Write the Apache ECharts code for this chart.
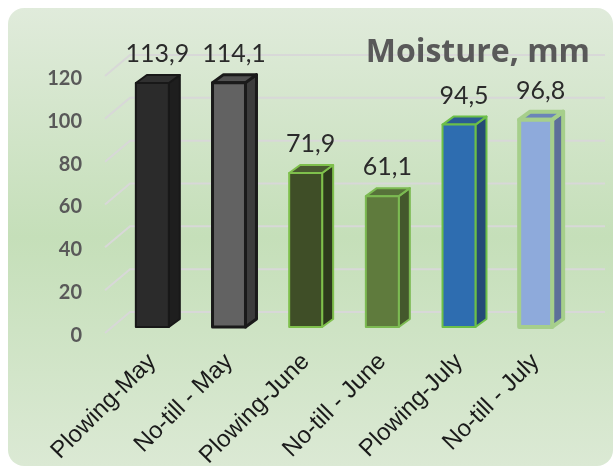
<!DOCTYPE html>
<html>
<head>
<meta charset="utf-8">
<script src="https://cdn.jsdelivr.net/npm/echarts@6/dist/echarts.min.js"></script>
<style>html,body{margin:0;padding:0;background:#fff;}#c{width:615px;height:472px;}</style>
</head>
<body>
<div id="c"></div>
<script>
// ---- data ----
const categories = ['Plowing-May', 'No-till - May', 'Plowing-June', 'No-till - June', 'Plowing-July', 'No-till - July'];
const moisture = [113.9, 114.1, 71.9, 61.1, 94.5, 96.8];
const yTicks = [0, 20, 40, 60, 80, 100, 120];
const titleText = 'Moisture, mm';

// ---- styles ----
const frontColors = ['#2b2b2b', '#626262', '#3f4e27', '#5f7b3d', '#2e6db0', '#8eaadb'];
const sideColors  = ['#1e1e1e', '#3c3c3c', '#2d3a1c', '#44582c', '#244a76', '#5d6f99'];
const topColors   = ['#303030', '#515151', '#495a30', '#57723a', '#2b5c93', '#6b84b8'];
const edgeColors  = ['#181818', '#1a1a1a', '#7fc04c', '#7cba52', '#6cbf48', '#a6cf8b'];
const edgeWidths  = [2, 3, 2, 2, 2, 4];

const chart = echarts.init(document.getElementById('c'), null, {renderer: 'canvas'});

function fmt(v) { return v.toFixed(1).replace('.', ','); }

function renderBar(params, api) {
  const i = api.value(0), v = api.value(1);
  const top = api.coord([i, v]);
  const base = api.coord([i, 0]);
  const bw = api.size([1, 0])[0] * 0.43;
  const dx = 11, dy = 8;
  const x0 = top[0] - bw / 2, x1 = x0 + bw;
  const ew = edgeWidths[i], ec = edgeColors[i];
  const st = (fill) => ({fill: fill, stroke: ec, lineWidth: ew, lineJoin: 'round'});
  return {
    type: 'group',
    children: [
      {type: 'polygon', shape: {points: [[x1, top[1]], [x1 + dx, top[1] - dy], [x1 + dx, base[1] - dy], [x1, base[1]]]}, style: st(sideColors[i])},
      {type: 'polygon', shape: {points: [[x0, top[1]], [x0 + dx, top[1] - dy], [x1 + dx, top[1] - dy], [x1, top[1]]]}, style: st(topColors[i])},
      {type: 'rect', shape: {x: x0, y: top[1], width: bw, height: base[1] - top[1]}, style: st(frontColors[i])},
      {type: 'text', x: top[0] + 5, y: top[1] - 29, style: {text: fmt(v), font: '25px Lato', fill: '#2a2a2a', align: 'center', verticalAlign: 'middle'}}
    ]
  };
}

function renderGrid(params, api) {
  const v = api.value(0);
  const cs = params.coordSys;
  const y = api.coord([0, v])[1];
  const xa = cs.x - 9, xb = cs.x + 16, xe = cs.x + cs.width + 31;
  return {
    type: 'polyline',
    shape: {points: [[xa, y + 6], [xb, y - 15], [xe, y - 15]]},
    style: {stroke: '#d8d8d8', lineWidth: 2, fill: null}
  };
}

const option = {
  animation: false,
  backgroundColor: '#ffffff',
  graphic: [
    {type: 'rect', z: -10, shape: {x: 8, y: 8, width: 605, height: 458, r: 16},
     style: {fill: new echarts.graphic.LinearGradient(0, 0, 0, 1, [
       {offset: 0, color: '#e0ebdb'},
       {offset: 0.5, color: '#c5dfb9'},
       {offset: 1, color: '#dbe9d4'}
     ])}},
    {type: 'text', z: 5, x: 590, y: 53, style: {text: titleText, font: 'bold 32px "Open Sans"', fill: '#595959', align: 'right', verticalAlign: 'middle'}}
  ],
  grid: {left: 114, right: 41, top: 70, bottom: 145},
  xAxis: {
    type: 'category', data: categories,
    axisLine: {show: false}, axisTick: {show: false},
    axisLabel: {rotate: 45, margin: 31, interval: 0, fontFamily: 'Liberation Sans', fontSize: 24, color: '#1a1a1a'}
  },
  yAxis: {
    type: 'value', min: 0, max: 120, interval: 20,
    splitLine: {show: false}, axisLine: {show: false}, axisTick: {show: false},
    axisLabel: {margin: 32, fontFamily: 'Lato', fontWeight: 'bold', fontSize: 20, color: '#595959', verticalAlign: 'top', lineHeight: 17}
  },
  series: [
    {type: 'custom', z: 1, renderItem: renderGrid, data: yTicks.map(t => [t]), encode: {y: 0}, silent: true},
    {type: 'custom', z: 3, renderItem: renderBar, data: moisture.map((v, i) => [i, v]), encode: {x: 0, y: 1}}
  ]
};
chart.setOption(option);
</script>
</body>
</html>
